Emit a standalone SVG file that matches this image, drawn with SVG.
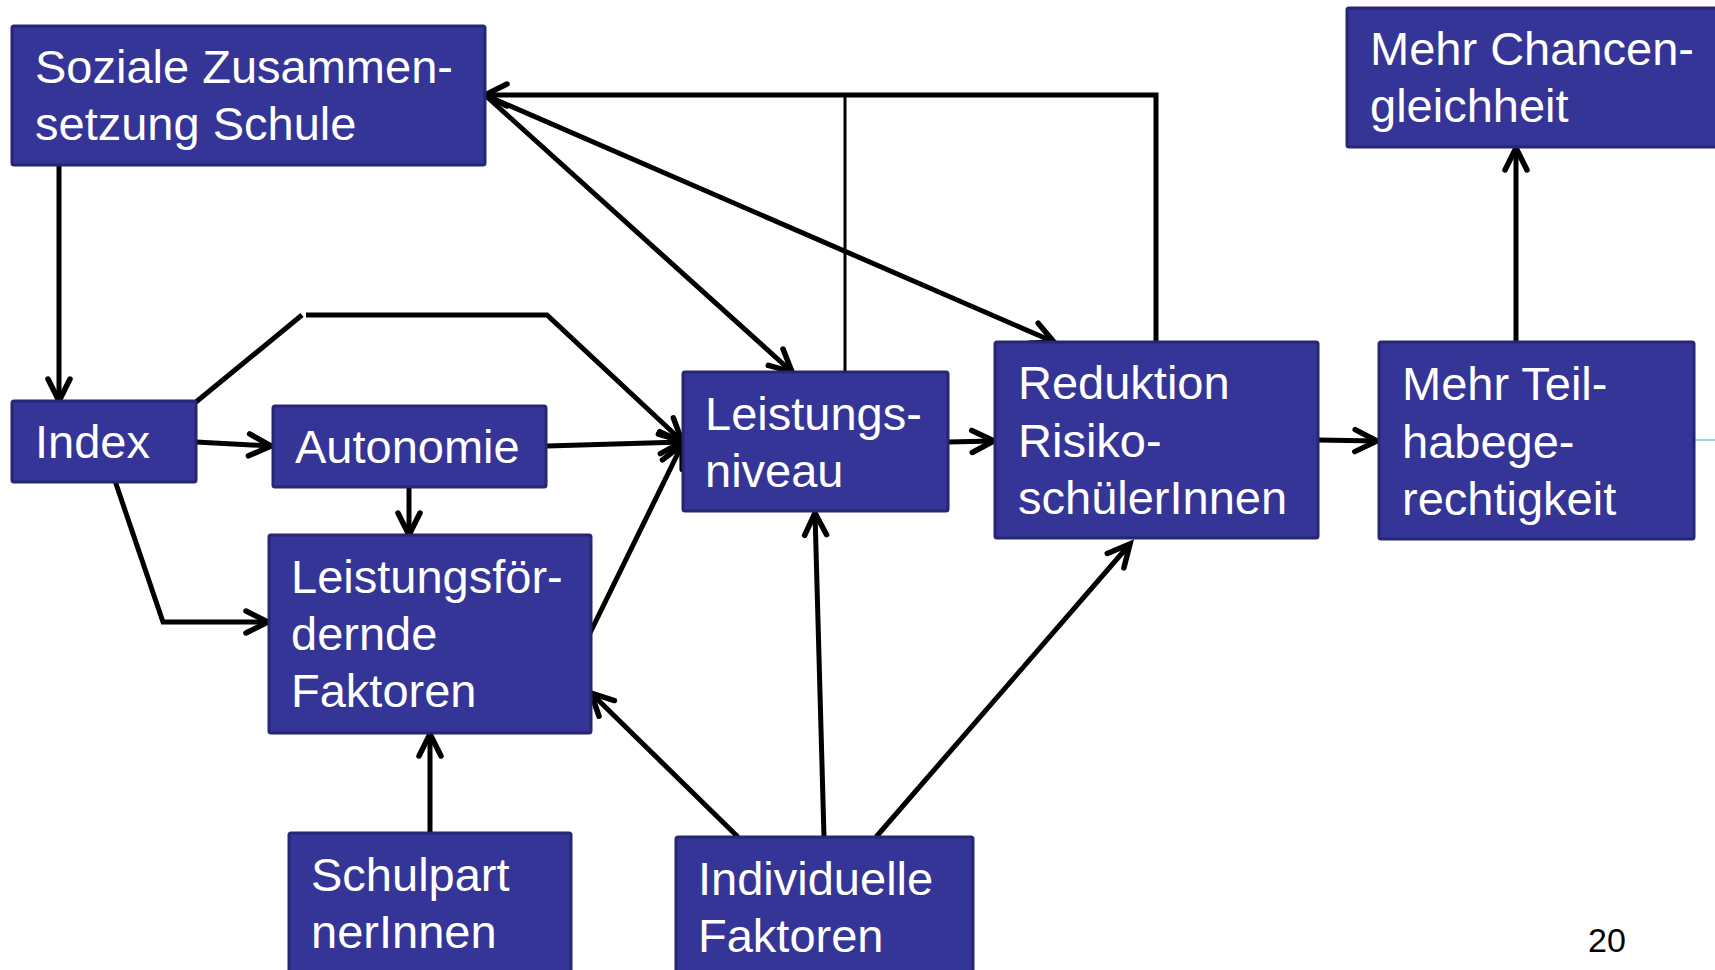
<svg xmlns="http://www.w3.org/2000/svg" width="1715" height="970" viewBox="0 0 1715 970">
<style>
.box{fill:#353598;stroke:#262673;stroke-width:3}
.t{font-family:"Liberation Sans",Arial,sans-serif;font-size:47px;fill:#ffffff}
.c{fill:none;stroke:#000;stroke-width:5;stroke-linejoin:miter}
.thin{fill:none;stroke:#000;stroke-width:3}
.pg{font-family:"Liberation Sans",Arial,sans-serif;font-size:34px;fill:#000}
</style>
<defs>
<marker id="ah" markerUnits="userSpaceOnUse" viewBox="-30 -16 36 32" refX="0" refY="0" markerWidth="36" markerHeight="32" orient="auto" overflow="visible">
<path d="M -22 -11 L 0 0 L -22 11" fill="none" stroke="#000" stroke-width="5.5" stroke-linecap="round" stroke-linejoin="miter"/>
</marker>
</defs>
<rect x="0" y="0" width="1715" height="970" fill="#ffffff"/>
<g id="connectors">
<line class="c" x1="59" y1="165" x2="59" y2="401" marker-end="url(#ah)"/>
<polyline class="c" points="1156,342 1156,95 485,95" marker-end="url(#ah)"/>
<line class="thin" x1="845" y1="372" x2="845" y2="95"/>
<line class="c" x1="485" y1="95" x2="792" y2="372" marker-end="url(#ah)"/>
<line class="c" x1="485" y1="95" x2="1054" y2="342" marker-end="url(#ah)"/>
<line class="c" x1="196" y1="402" x2="302" y2="315"/>
<polyline class="c" points="306,315 547,315 682,441" marker-end="url(#ah)"/>
<line class="c" x1="196" y1="442" x2="271" y2="446" marker-end="url(#ah)"/>
<line class="c" x1="547" y1="446" x2="682" y2="442" marker-end="url(#ah)"/>
<line class="c" x1="409" y1="487" x2="409" y2="535" marker-end="url(#ah)"/>
<polyline class="c" points="112,472 163,622 268,622" marker-end="url(#ah)"/>
<line class="c" x1="590" y1="633" x2="682" y2="445" marker-end="url(#ah)"/>
<line class="c" x1="430" y1="833" x2="430" y2="734" marker-end="url(#ah)"/>
<line class="c" x1="738" y1="837" x2="591" y2="693" marker-end="url(#ah)"/>
<line class="c" x1="824" y1="837" x2="815" y2="513" marker-end="url(#ah)"/>
<line class="c" x1="876" y1="837" x2="1130" y2="544" marker-end="url(#ah)"/>
<line class="c" x1="948" y1="442" x2="994" y2="441" marker-end="url(#ah)"/>
<line class="c" x1="1318" y1="440" x2="1377" y2="441" marker-end="url(#ah)"/>
<line class="c" x1="1516" y1="342" x2="1516" y2="148" marker-end="url(#ah)"/>
<line x1="1694" y1="440" x2="1715" y2="440" stroke="#9fd4e0" stroke-width="2"/>
</g>
<g id="soziale">
<rect class="box" x="12" y="26" width="473" height="139" rx="2"/>
<text class="t" x="35" y="83">Soziale Zusammen-</text>
<text class="t" x="35" y="140">setzung Schule</text>
</g>
<g id="chancen">
<rect class="box" x="1347" y="8" width="390" height="139" rx="2"/>
<text class="t" x="1370" y="65">Mehr Chancen-</text>
<text class="t" x="1370" y="122">gleichheit</text>
</g>
<g id="index">
<rect class="box" x="12" y="401" width="184" height="81" rx="2"/>
<text class="t" x="35" y="458">Index</text>
</g>
<g id="autonomie">
<rect class="box" x="273" y="406" width="273" height="81" rx="2"/>
<text class="t" x="295" y="463">Autonomie</text>
</g>
<g id="leistungsfoerdernde">
<rect class="box" x="269" y="535" width="322" height="198" rx="2"/>
<text class="t" x="291" y="593">Leistungsför-</text>
<text class="t" x="291" y="650">dernde</text>
<text class="t" x="291" y="707">Faktoren</text>
</g>
<g id="leistungsniveau">
<rect class="box" x="683" y="372" width="265" height="139" rx="2"/>
<text class="t" x="705" y="430">Leistungs-</text>
<text class="t" x="705" y="487">niveau</text>
</g>
<g id="reduktion">
<rect class="box" x="995" y="342" width="323" height="196" rx="2"/>
<text class="t" x="1018" y="399">Reduktion</text>
<text class="t" x="1018" y="457">Risiko-</text>
<text class="t" x="1018" y="514">schülerInnen</text>
</g>
<g id="teilhabe">
<rect class="box" x="1379" y="342" width="315" height="197" rx="2"/>
<text class="t" x="1402" y="400">Mehr Teil-</text>
<text class="t" x="1402" y="458">habege-</text>
<text class="t" x="1402" y="515">rechtigkeit</text>
</g>
<g id="schulpartner">
<rect class="box" x="289" y="833" width="282" height="150" rx="2"/>
<text class="t" x="311" y="891">Schulpart</text>
<text class="t" x="311" y="948">nerInnen</text>
</g>
<g id="individuelle">
<rect class="box" x="676" y="837" width="297" height="146" rx="2"/>
<text class="t" x="698" y="895">Individuelle</text>
<text class="t" x="698" y="952">Faktoren</text>
</g>
<text class="pg" x="1588" y="952">20</text>
</svg>
